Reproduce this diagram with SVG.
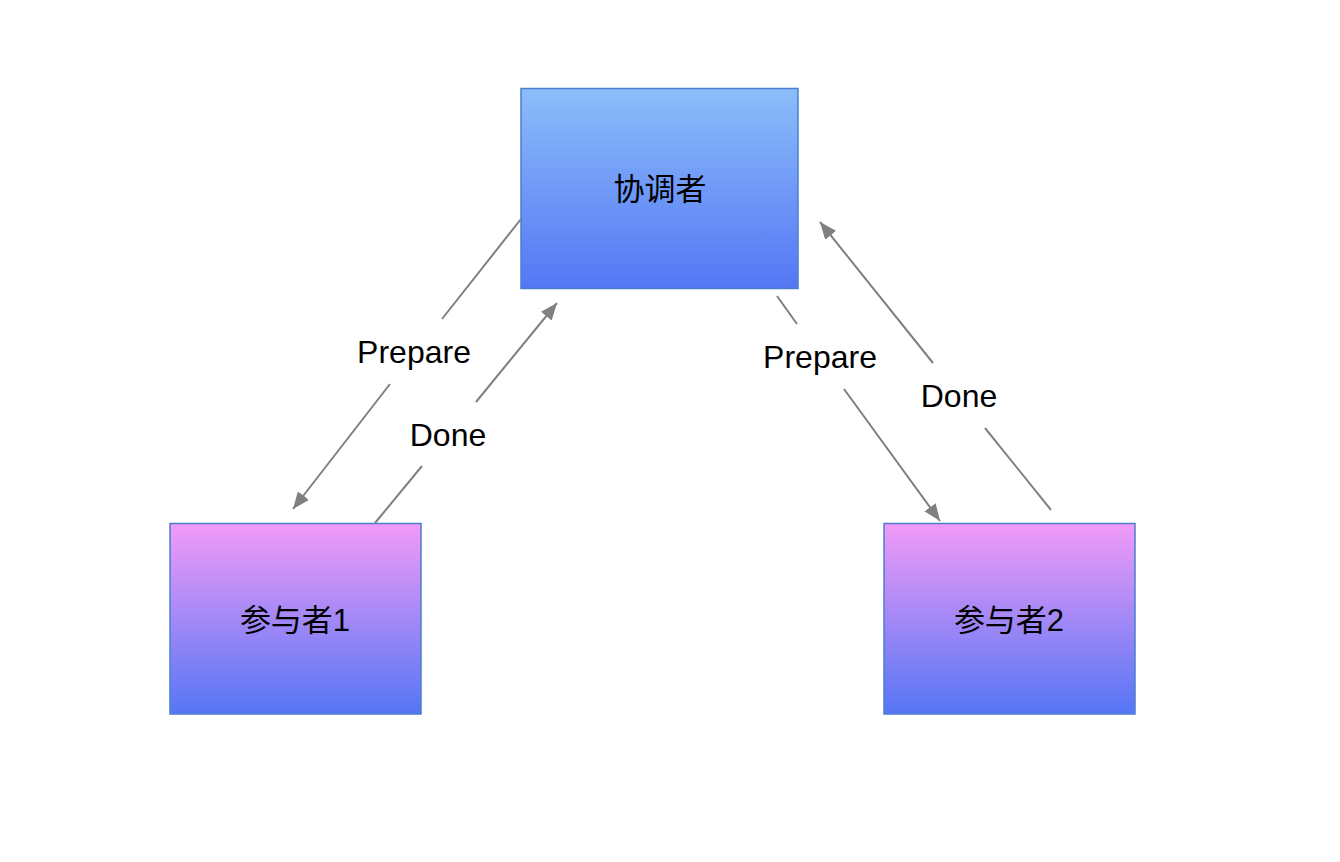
<svg xmlns="http://www.w3.org/2000/svg" width="1340" height="862" viewBox="0 0 1340 862">
<defs>
<linearGradient id="gCoord" x1="0" y1="0" x2="0" y2="1">
<stop offset="0" stop-color="#8BBDF9"/>
<stop offset="1" stop-color="#5576F5"/>
</linearGradient>
<linearGradient id="gPart" x1="0" y1="0" x2="0" y2="1">
<stop offset="0" stop-color="#F19AF7"/>
<stop offset="1" stop-color="#5576F5"/>
</linearGradient>
<marker id="arr" markerUnits="userSpaceOnUse" markerWidth="18" markerHeight="14" viewBox="0 0 18 14" refX="17" refY="7" orient="auto">
<path d="M0,0 L17,7 L0,14 Z" fill="#808080"/>
</marker>
<style>
.node{stroke:#4A7FD0;stroke-width:1.5}
.lbl{font-family:"Liberation Sans","Noto Sans CJK SC",sans-serif;font-size:31px;fill:#000;text-anchor:middle;dominant-baseline:central}
.el{font-size:32px}
.con{fill:none;stroke:#808080;stroke-width:2}
</style>
</defs>
<rect width="1340" height="862" fill="#FFFFFF"/>
<g id="coordinator">
<rect class="node" x="521" y="88.5" width="277" height="200" fill="url(#gCoord)"/>
<text class="lbl" x="660" y="189">协调者</text>
</g>
<g id="participant1">
<rect class="node" x="170" y="523.5" width="251" height="190.5" fill="url(#gPart)"/>
<text class="lbl" x="295" y="620">参与者1</text>
</g>
<g id="participant2">
<rect class="node" x="884" y="523.5" width="251" height="190.5" fill="url(#gPart)"/>
<text class="lbl" x="1009" y="620">参与者2</text>
</g>
<g id="connectors">
<path class="con" d="M521,219 L442,319 M390,384 L293,509" marker-end="url(#arr)"/>
<text class="lbl el" x="414" y="352">Prepare</text>
<path class="con" d="M375,523 L422,466 M476,402 L557,303" marker-end="url(#arr)"/>
<text class="lbl el" x="448" y="435">Done</text>
<path class="con" d="M777,296 L797,324 M844,389 L940,521" marker-end="url(#arr)"/>
<text class="lbl el" x="820" y="357">Prepare</text>
<path class="con" d="M1051,510 L985,428 M933,363 L820,222" marker-end="url(#arr)"/>
<text class="lbl el" x="959" y="396">Done</text>
</g>
</svg>
